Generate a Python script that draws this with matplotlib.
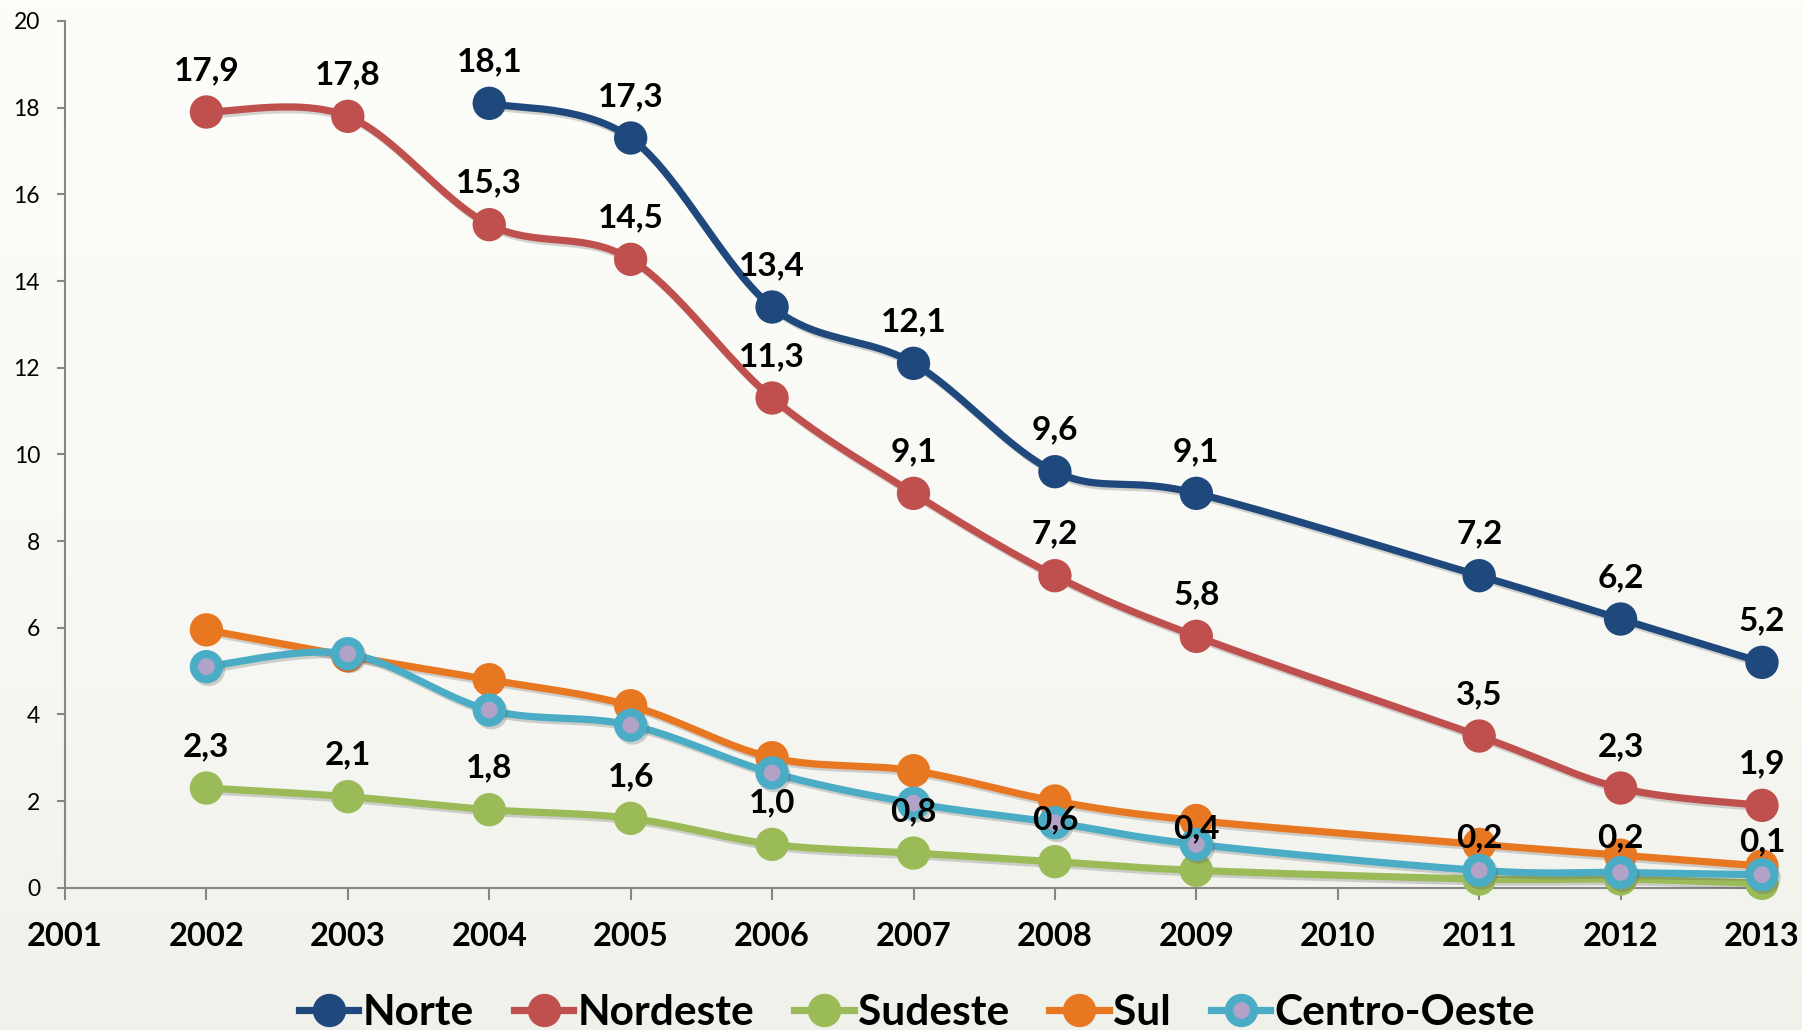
import numpy as np
import matplotlib
matplotlib.use("Agg")
import matplotlib.pyplot as plt
import matplotlib.patheffects as pe
from matplotlib.lines import Line2D
from matplotlib.colors import LinearSegmentedColormap

plt.rcParams['font.family'] = ['Lato', 'DejaVu Sans']

years_all = [2002, 2003, 2004, 2005, 2006, 2007, 2008, 2009, 2011, 2012, 2013]
years_norte = [2004, 2005, 2006, 2007, 2008, 2009, 2011, 2012, 2013]

norte = [18.1, 17.3, 13.4, 12.1, 9.6, 9.1, 7.2, 6.2, 5.2]
nordeste = [17.9, 17.8, 15.3, 14.5, 11.3, 9.1, 7.2, 5.8, 3.5, 2.3, 1.9]
sudeste = [2.3, 2.1, 1.8, 1.6, 1.0, 0.8, 0.6, 0.4, 0.2, 0.2, 0.1]
sul = [5.95, 5.35, 4.8, 4.2, 3.0, 2.7, 2.0, 1.55, 1.0, 0.75, 0.5]
centro_oeste = [5.1, 5.4, 4.1, 3.75, 2.65, 1.95, 1.5, 1.0, 0.4, 0.35, 0.3]

x_ticks = list(range(2001, 2014))
y_ticks = list(range(0, 21, 2))

names = ['Norte', 'Nordeste', 'Sudeste', 'Sul', 'Centro-Oeste']
colors = ['#1F497D', '#C0504D', '#9BBB59', '#E87722', '#4BACC6']


def smooth(x, y, n=30):
    pts = np.column_stack([np.asarray(x, float), np.asarray(y, float)])
    m = len(pts)
    out = [pts[0]]
    t = np.linspace(0, 1, n)[1:, None]
    for i in range(m - 1):
        p0 = pts[max(i - 1, 0)]
        p1 = pts[i]
        p2 = pts[i + 1]
        p3 = pts[min(i + 2, m - 1)]
        c1 = p1 + (p2 - p0) / 6.0
        c2 = p2 - (p3 - p1) / 6.0
        seg = ((1 - t) ** 3) * p1 + 3 * ((1 - t) ** 2) * t * c1 + 3 * (1 - t) * t ** 2 * c2 + t ** 3 * p2
        out.extend(seg)
    out = np.array(out)
    return out[:, 0], out[:, 1]


fig = plt.figure(figsize=(18.02, 10.30), dpi=100)
bg = fig.add_axes([0, 0, 1, 1], zorder=-10)
grad = np.linspace(0, 1, 256)[:, None]
cmap = LinearSegmentedColormap.from_list('bg', ['#FDFDFA', '#F9F9F5', '#F1F1EC'])
bg.imshow(grad, aspect='auto', cmap=cmap, extent=[0, 1, 0, 1])
bg.axis('off')

ax = fig.add_axes([65 / 1802, 1 - 887.7 / 1030, (1762 - 65) / 1802, (887.7 - 21) / 1030])
ax.patch.set_alpha(0)

shadow = [pe.SimpleLineShadow(offset=(1.5, -2), shadow_color='#555555', alpha=0.25), pe.Normal()]

series = [
    (years_norte, norte),
    (years_all, nordeste),
    (years_all, sudeste),
    (years_all, sul),
    (years_all, centro_oeste),
]

lw = 5.2
ms = 24
co_ms, co_mew = 18, 6
for k, ((xs, ys), name, c) in enumerate(zip(series, names, colors)):
    sx, sy = smooth(xs, ys)
    ax.plot(sx, sy, color=c, lw=lw, solid_capstyle='round', zorder=2 + k,
            clip_on=False, path_effects=shadow)
    if name == 'Centro-Oeste':
        ax.plot(xs, ys, linestyle='none', marker='o', ms=co_ms, mfc='#B3A2C7', mec=c, mew=co_mew,
                zorder=2.5 + k, clip_on=False, path_effects=shadow)
    else:
        ax.plot(xs, ys, linestyle='none', marker='o', ms=ms, mfc=c, mec=c, mew=0,
                zorder=2.5 + k, clip_on=False, path_effects=shadow)


def fmt(v):
    return f"{v:.1f}".replace('.', ',')


for xs, ys in [(years_norte, norte), (years_all, nordeste), (years_all, sudeste)]:
    for xv, yv in zip(xs, ys):
        ax.annotate(fmt(yv), (xv, yv), xytext=(0, 30), textcoords='offset points',
                    ha='center', va='center', fontsize=24, fontweight='bold',
                    color='black', zorder=20)

ax.set_xlim(2001, 2013)
ax.set_ylim(0, 20)
ax.set_xticks(x_ticks)
ax.set_xticklabels([str(v) for v in x_ticks], fontsize=23.5, fontweight='bold')
ax.set_yticks(y_ticks)
ax.set_yticklabels([str(v) for v in y_ticks], fontsize=16.5)

for s in ['top', 'right']:
    ax.spines[s].set_visible(False)
for s in ['left', 'bottom']:
    ax.spines[s].set_color('#868686')
    ax.spines[s].set_linewidth(1.5)
ax.tick_params(axis='x', length=8.5, width=1.5, color='#868686', pad=16)
ax.tick_params(axis='y', length=6, width=1.5, color='#868686', pad=12)

handles = []
for name, c in zip(names, colors):
    if name == 'Centro-Oeste':
        h = Line2D([], [], color=c, lw=lw, marker='o', ms=co_ms, mfc='#B3A2C7', mec=c, mew=co_mew)
    else:
        h = Line2D([], [], color=c, lw=lw, marker='o', ms=ms, mfc=c, mec=c, mew=0)
    handles.append(h)

leg = fig.legend(handles, names, loc='center', bbox_to_anchor=(917 / 1802, 1 - 1013 / 1030),
                 ncol=5, frameon=False, prop={'size': 30.5, 'weight': 'bold'},
                 handlelength=1.4, handletextpad=0.1, columnspacing=0.95, borderaxespad=0)

fig.savefig('out.png', dpi=100, facecolor=fig.get_facecolor())
